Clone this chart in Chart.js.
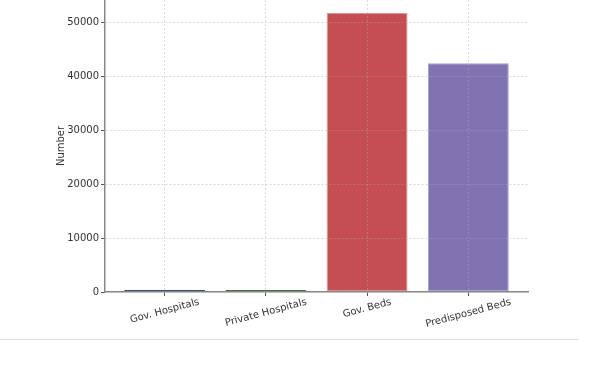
<!DOCTYPE html>
<html>
<head>
<meta charset="utf-8">
<script src="https://cdn.jsdelivr.net/npm/chart.js@4"></script>
<style>
  body { margin: 0; background: #fff; }
  #wrap { position: relative; width: 602px; height: 371px; overflow: hidden; }
  #sep { position: absolute; left: 0; top: 339px; width: 579px; height: 1px; background: #e3e3e3; }
</style>
</head>
<body>
<div id="wrap">
  <canvas id="chart" width="602" height="371"></canvas>
  <div id="sep"></div>
</div>
<script>
// data
const categories = ['Gov. Hospitals', 'Private Hospitals', 'Gov. Beds', 'Predisposed Beds'];
const counts = [350, 360, 51700, 42400];
const barColors = ['#4c72b0', '#55a868', '#c44e52', '#8172b2'];
const edgeColors = ['#34507e', '#3d7548', '#dc9597', '#a79cd0'];
const yTicks = [0, 10000, 20000, 30000, 40000, 50000];
const yTitle = 'Number';

const FONT = '"DejaVu Sans", sans-serif';
const TEXT = '#333';
const GRID = 'rgba(170,170,170,0.45)';

// x labels centred under the ticks and turned 15 degrees, plus the y title
const textPlugin = {
    id: 'textPlugin',
    afterDraw(chart) {
        const { ctx, scales: { x, y } } = chart;
        const ang = 15 * Math.PI / 180;
        ctx.save();
        ctx.font = '10px ' + FONT;
        ctx.fillStyle = TEXT;
        ctx.textAlign = 'center';
        ctx.textBaseline = 'middle';
        categories.forEach((c, i) => {
            const w = ctx.measureText(c).width;
            const boxH = w * Math.sin(ang) + 12 * Math.cos(ang);
            const cx = x.getPixelForValue(i);
            const cy = y.bottom + 4 + boxH / 2;
            ctx.save();
            ctx.translate(cx, cy);
            ctx.rotate(-ang);
            ctx.fillText(c, 0, 0);
            ctx.restore();
        });
        ctx.save();
        ctx.translate(61, (y.top + y.bottom) / 2);
        ctx.rotate(-Math.PI / 2);
        ctx.fillText(yTitle, 0, 0);
        ctx.restore();
        ctx.restore();
    }
};

const ctx = document.getElementById('chart').getContext('2d');
new Chart(ctx, {
    type: 'bar',
    data: {
        datasets: [{
            data: counts.map((v, i) => ({ x: i, y: v })),
            backgroundColor: barColors,
            borderColor: edgeColors,
            borderWidth: 1,
            borderSkipped: false,
            barPercentage: 0.8,
            categoryPercentage: 1
        }]
    },
    options: {
        responsive: false,
        animation: false,
        layout: { padding: { left: 0, right: 74, top: 0, bottom: 75 } },
        plugins: { legend: { display: false }, tooltip: { enabled: false } },
        scales: {
            x: {
                type: 'linear',
                min: -0.59,
                max: 3.59,
                offset: false,
                afterBuildTicks: s => { s.ticks = categories.map((c, i) => ({ value: i })); },
                ticks: { display: false },
                grid: { offset: false, color: GRID, lineWidth: 1, tickLength: 4, tickColor: '#555', z: 1 },
                border: { color: '#888', width: 1.5, dash: [2, 2], z: 1 }
            },
            y: {
                min: 0,
                max: 54100,
                afterBuildTicks: s => { s.ticks = yTicks.map(v => ({ value: v })); },
                afterFit: s => { s.width = 105; s.paddingTop = 0; },
                ticks: { font: { family: FONT, size: 10 }, color: TEXT, padding: 2, callback: v => String(v) },
                grid: { color: GRID, lineWidth: 1, tickLength: 4, tickColor: '#555', z: 1 },
                border: { color: '#888', width: 1.5, dash: [2, 2], z: 1 }
            }
        }
    },
    plugins: [textPlugin]
});
</script>
</body>
</html>
